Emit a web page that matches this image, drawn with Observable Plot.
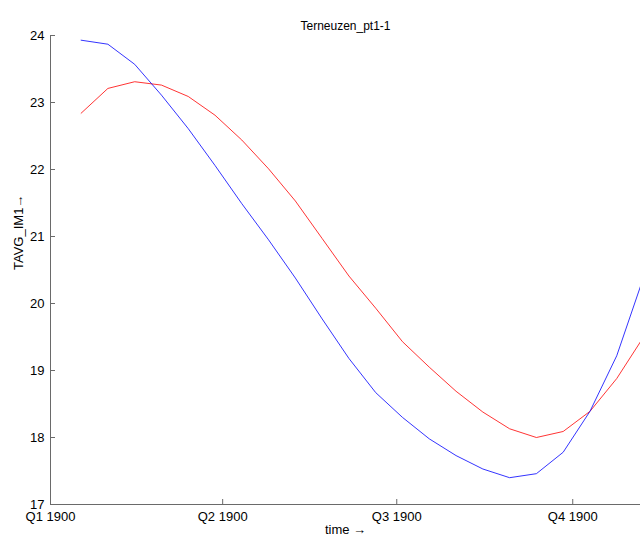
<!DOCTYPE html>
<html>
<head>
<meta charset="utf-8">
<script src="https://cdn.jsdelivr.net/npm/d3@7"></script>
<script src="https://cdn.jsdelivr.net/npm/@observablehq/plot@0.6"></script>
<style>
  html, body { margin: 0; padding: 0; background: #fff; }
  #chart svg { display: block; }
</style>
</head>
<body>
<div id="chart"></div>
<script>
const title = "Terneuzen_pt1-1";
const xLabel = "time \u2192";
const yLabel = "TAVG_IM1\u2192";

const dates = [
  "1900-01-17", "1900-01-31", "1900-02-14", "1900-02-28", "1900-03-14", "1900-03-28",
  "1900-04-11", "1900-04-25", "1900-05-09", "1900-05-23", "1900-06-06", "1900-06-20",
  "1900-07-04", "1900-07-18", "1900-08-01", "1900-08-15", "1900-08-29", "1900-09-12",
  "1900-09-26", "1900-10-10", "1900-10-24", "1900-11-07"
];
const blueValues = [
  23.93, 23.87, 23.57, 23.11, 22.61, 22.06, 21.49, 20.95, 20.38, 19.77, 19.18,
  18.67, 18.30, 17.98, 17.73, 17.53, 17.40, 17.46, 17.78, 18.39, 19.22, 20.39
];
const redValues = [
  22.84, 23.21, 23.31, 23.26, 23.09, 22.81, 22.44, 22.01, 21.53, 20.97, 20.41,
  19.93, 19.43, 19.05, 18.69, 18.38, 18.13, 18.00, 18.09, 18.39, 18.88, 19.50
];
const yTicks = [17, 18, 19, 20, 21, 22, 23, 24];
const xTickDates = ["1900-01-01", "1900-04-01", "1900-07-01", "1900-10-01"];
const xTickLabels = ["Q1 1900", "Q2 1900", "Q3 1900", "Q4 1900"];
const xDomain = ["1900-01-01T00:00:00Z", "1900-11-05T10:00:00Z"];
const yDomain = [17, 24];

const W = 640, H = 537;
const M = {top: 35, right: 0, bottom: 33, left: 50};
const plotW = W - M.left - M.right;
const plotH = H - M.top - M.bottom;

const toDate = s => new Date(s.length === 10 ? s + "T00:00:00Z" : s);
const blue = dates.map((d, i) => ({date: toDate(d), value: blueValues[i]}));
const red = dates.map((d, i) => ({date: toDate(d), value: redValues[i]}));
const xTicks = xTickDates.map(toDate);
const fmt = d => xTickLabels[xTicks.findIndex(t => +t === +d)];

const font = "'Liberation Sans', Arial, Helvetica, sans-serif";
const spine = "#6a6a6a";

const chart = Plot.plot({
  width: W,
  height: H,
  marginTop: M.top,
  marginRight: M.right,
  marginBottom: M.bottom,
  marginLeft: M.left,
  style: {fontFamily: font, fontSize: "13px", color: "#000", background: "#fff", overflow: "visible"},
  x: {type: "utc", domain: xDomain.map(toDate)},
  y: {domain: yDomain},
  marks: [
    Plot.axisY({ticks: yTicks, tickFormat: d => String(d), tickSize: 0, tickPadding: 6, fontSize: 13, label: null}),
    Plot.axisX({ticks: xTicks, tickFormat: fmt, tickSize: 0, tickPadding: 7, fontSize: 13, label: null}),
    Plot.text([xLabel], {frameAnchor: "bottom", dy: 29, fontSize: 13, fill: "#000"}),
    Plot.text([yLabel], {frameAnchor: "left", dx: -32, rotate: -90, fontSize: 13, fill: "#000"}),
    Plot.tickY(yTicks, {y: d => d, stroke: spine, insetRight: plotW - 5}),
    Plot.tickX(xTicks, {x: d => d, stroke: spine, insetTop: plotH - 5}),
    Plot.lineY(red, {x: "date", y: "value", stroke: "#ff0000", strokeWidth: 0.8, clip: true}),
    Plot.lineY(blue, {x: "date", y: "value", stroke: "#0000ff", strokeWidth: 0.8, clip: true}),
    Plot.ruleY([yDomain[0]], {stroke: spine, strokeWidth: 1}),
    Plot.ruleX([toDate(xDomain[0])], {stroke: spine, strokeWidth: 1}),
    Plot.text([title], {frameAnchor: "top", dy: -14.5, fontSize: 12, fill: "#000"})
  ]
});
document.getElementById("chart").appendChild(chart);
</script>
</body>
</html>
